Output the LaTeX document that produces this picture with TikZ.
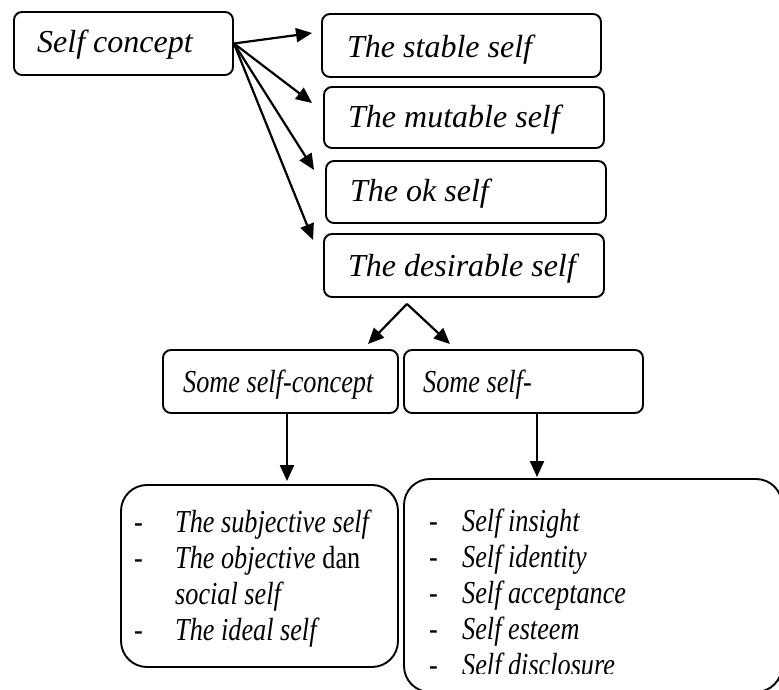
\documentclass[tikz,border=0pt]{standalone}
\usepackage{fontspec}
\setmainfont{Liberation Serif}
\newfontfamily\narrowfont[FakeStretch=0.82]{Liberation Serif}
\usetikzlibrary{arrows.meta}
\tikzset{
  box/.style={draw,line width=1.9pt,rounded corners=8pt,inner sep=0pt},
  bigbox/.style={box,rounded corners=26pt},
  lbl/.style={anchor=base west,inner sep=0pt,font=\fontsize{32}{36}\selectfont\itshape},
  nlbl/.style={lbl,font=\fontsize{32}{36}\narrowfont\itshape},
  dsh/.style={anchor=base west,inner sep=0pt,font=\fontsize{32}{36}\narrowfont},
  arr/.style={-{Triangle[length=16pt,width=14pt]},line width=2.2pt}
}
\begin{document}
\begin{tikzpicture}[x=1pt,y=1pt]
\useasboundingbox (0,0) rectangle (779,690);
\clip (0,0) rectangle (779,690);
%boxes
\node[box,minimum width=219,minimum height=63] (sc) at (123.5,646.5) {};
\node[box,minimum width=279,minimum height=63] (st) at (461.5,644.5) {};
\node[box,minimum width=280,minimum height=61] (mu) at (464,572.5) {};
\node[box,minimum width=280,minimum height=62] (ok) at (466,498) {};
\node[box,minimum width=280,minimum height=63] (ds) at (464,424.5) {};
\node[box,minimum width=235,minimum height=63] (ssc) at (280.5,308.5) {};
\node[box,minimum width=239,minimum height=63] (ss) at (523.5,308.5) {};
\node[bigbox,minimum width=277,minimum height=182] (bl) at (259.5,114) {};
\node[bigbox,minimum width=378,minimum height=213] (br) at (593,104.5) {};
%arrows
\draw[arr] (sc.east) -- ([shift={(-9,12.5)}]st.west);
\draw[arr] (sc.east) -- ([shift={(-11,14.5)}]mu.west);
\draw[arr] (sc.east) -- ([shift={(-11,22)}]ok.west);
\draw[arr] (sc.east) -- ([shift={(-10,25.5)}]ds.west);
\draw[arr] ([shift={(-57,-6)}]ds.south) -- ([shift={(87.5,5)}]ssc.north);
\draw[arr] ([shift={(-57,-6)}]ds.south) -- ([shift={(-73.5,5)}]ss.north);
\draw[arr] ([xshift=6.5]ssc.south) -- ([shift={(27.5,3)}]bl.north);
\draw[arr] ([xshift=13.5]ss.south) -- ([shift={(-56,1)}]br.north);
%labels
\node[lbl] (sct) at (37,637) {Self concept};
\node[lbl] (stt) at (347,632) {The stable self};
\node[lbl] (mut) at (348,562) {The mutable self};
\node[lbl] (okt) at (350,488) {The ok self};
\node[lbl] (dst) at (348,413) {The desirable self};
\node[nlbl] (ssct) at (183,297) {Some self-concept};
\node[nlbl] (sst) at (423,297) {Some self-};
%left list
\foreach \y in {157,121,49}{
\node[dsh] (bld\y) at (134,\y) {-};
}
\node[nlbl] (bl1) at (175,157) {The subjective self};
\node[nlbl] (bl2) at (175,121) {The objective \upshape dan};
\node[nlbl] (bl3) at (175,85) {social self};
\node[nlbl] (bl4) at (175,49) {The ideal self};
%right list
\begin{scope}
\clip (404,16) rectangle (779,211);
\foreach \t [count=\i] in {Self insight,Self identity,Self acceptance,Self esteem,Self disclosure}{
\node[dsh] (brd\i) at (429,{194-36*\i}) {-};
\node[nlbl] (br\i) at (462,{194-36*\i}) {\t};
}
\end{scope}
\end{tikzpicture}
\end{document}
